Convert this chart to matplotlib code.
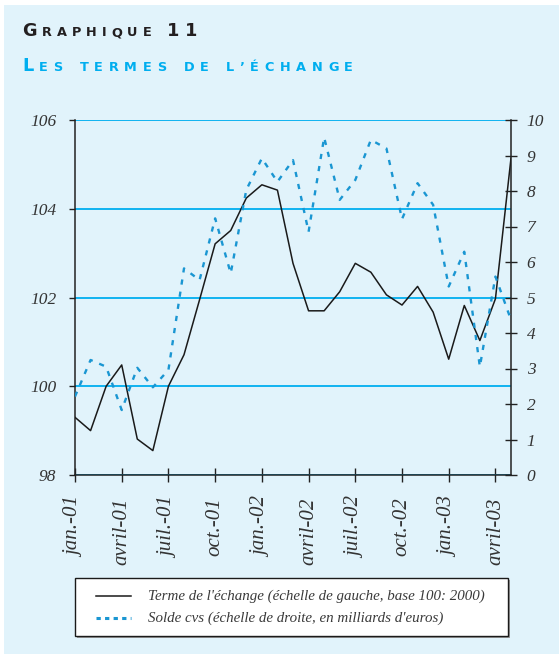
import matplotlib
matplotlib.use('Agg')
import matplotlib.pyplot as plt
from matplotlib.patches import Rectangle
from matplotlib.lines import Line2D
import numpy as np

# ---------------- data ----------------
tick_positions = [0, 3, 6, 9, 12, 15, 18, 21, 24, 27]
tick_labels = ['jan.-01', 'avril-01', 'juil.-01', 'oct.-01', 'jan.-02',
               'avril-02', 'juil.-02', 'oct.-02', 'jan.-03', 'avril-03']
# monthly, jan-01 .. mai-03
termes = [99.30, 99.00, 100.00, 100.48, 98.81, 98.55, 100.00, 100.71, 101.95,
          103.21, 103.51, 104.24, 104.54, 104.42, 102.77, 101.70, 101.70,
          102.13, 102.77, 102.57, 102.06, 101.83, 102.25, 101.67, 100.61,
          101.82, 101.03, 101.97, 105.14]
solde = [2.21, 3.24, 3.05, 1.83, 3.02, 2.47, 2.96, 5.82, 5.49, 7.23, 5.68,
         8.03, 8.92, 8.26, 8.87, 6.85, 9.51, 7.75, 8.31, 9.44, 9.20, 7.21,
         8.22, 7.61, 5.31, 6.29, 3.05, 5.59, 4.37]
left_ticks = [98, 100, 102, 104, 106]
right_ticks = list(range(0, 11))
legend_labels = ["Terme de l'échange (échelle de gauche, base 100: 2000)",
                 "Solde cvs (échelle de droite, en milliards d'euros)"]

W, H = 559, 654
BG = '#e1f3fb'
GRID = '#00aeef'
DOT = '#1a96d2'
DARK = '#222222'
SERIF = 'Liberation Serif'

fig = plt.figure(figsize=(W / 100, H / 100), dpi=100)
fig.patch.set_facecolor('white')
fig.add_artist(Rectangle((4 / W, 0), 1 - 4 / W, 1 - 5 / H, transform=fig.transFigure,
                         facecolor=BG, edgecolor='none', zorder=-10))


def px(x, y):
    return x / W, 1 - y / H


# ---------------- title with tracking (small caps emulation) ----------------
renderer = fig.canvas.get_renderer()


def tracked(parts, x0, x1, ybase, color):
    objs = []
    widths = []
    for ch, size in parts:
        if ch == ' ':
            objs.append(None)
            widths.append(size * 0.45 * 100 / 72)
            continue
        t = fig.text(0, 0, ch, fontsize=size, family='DejaVu Sans', weight='bold',
                     color=color, va='baseline', ha='left')
        objs.append(t)
        widths.append(t.get_window_extent(renderer).width)
    extra = (x1 - x0 - sum(widths)) / (len(parts) - 1)
    x = x0
    for t, w in zip(objs, widths):
        if t is not None:
            t.set_position(px(x, ybase))
        x += w + extra


big, small = 12.8, 9.3
line1 = [('G', big)] + [(c, small) for c in 'RAPHIQUE'] + [(' ', small), ('1', big), ('1', big)]
tracked(line1, 22, 197, 36, '#231f20')
line2 = [('L', big)] + [(c, small) for c in "ES TERMES DE L’ÉCHANGE"]
tracked(line2, 22, 353, 71, '#00aeef')

# ---------------- axes ----------------
ax = fig.add_axes([75 / W, 1 - 475 / H, 436 / W, 355 / H])
ax.set_facecolor('none')
x = np.arange(len(termes))
l1, = ax.plot(x, termes, color='#1a1a1a', lw=1.1, zorder=3)
ax.set_xlim(0, len(termes) - 1)
ax.set_ylim(98, 106)
ax.set_yticks(left_ticks)
ax.set_yticklabels([str(v) for v in left_ticks])
ax.grid(axis='y', color=GRID, lw=1.3, zorder=0)
ax.set_axisbelow(True)
ax.set_xticks(tick_positions)
ax.set_xticklabels(tick_labels, rotation=90, ha='center', va='top')

ax2 = ax.twinx()
l2, = ax2.plot(x, solde, color=DOT, lw=1.7, linestyle=(0, (2.2, 3.0)), zorder=3)
ax2.set_ylim(0, 10)
ax2.set_yticks(right_ticks)
ax2.set_xlim(0, len(termes) - 1)

for s in ['top', 'right']:
    ax.spines[s].set_visible(False)
for s in ['top', 'left', 'bottom']:
    ax2.spines[s].set_visible(False)
for s in ['left', 'bottom']:
    ax.spines[s].set_color(DARK)
    ax.spines[s].set_linewidth(1.1)
ax2.spines['right'].set_color(DARK)
ax2.spines['right'].set_linewidth(1.1)

ax.tick_params(axis='y', direction='out', length=4.5, width=1.0, color=DARK, pad=9,
               labelsize=12.5, labelcolor='#333333')
ax.tick_params(axis='x', direction='inout', length=10, width=1.0, color=DARK, pad=11,
               labelsize=15, labelcolor='#333333')
ax2.tick_params(axis='y', direction='inout', length=8.5, width=1.0, color=DARK, pad=7,
                labelsize=12.5, labelcolor='#333333')
for lab in ax.get_xticklabels() + ax.get_yticklabels() + ax2.get_yticklabels():
    lab.set_family(SERIF)
    lab.set_style('italic')

# ---------------- legend (manual box) ----------------
bx0, by0, bx1, by1 = 75, 578, 508, 636
fig.add_artist(Rectangle(px(bx0 + 1.5, by1 + 1.5), (bx1 - bx0) / W, (by1 - by0) / H,
                         transform=fig.transFigure, facecolor='#9a9a9a', edgecolor='none', zorder=1))
fig.add_artist(Rectangle(px(bx0, by1), (bx1 - bx0) / W, (by1 - by0) / H,
                         transform=fig.transFigure, facecolor='white', edgecolor='#1a1a1a',
                         lw=1.0, zorder=2))
rows = [596, 618]
for handle, label, yy in zip([l1, l2], legend_labels, rows):
    xa, ya = px(96, yy)
    xb, _ = px(131, yy)
    ln = Line2D([xa, xb], [ya, ya], transform=fig.transFigure, color=handle.get_color(),
                lw=handle.get_linewidth() if handle is l1 else 2.2,
                linestyle='-' if handle is l1 else (0, (1.4, 1.4)), zorder=3)
    fig.add_artist(ln)
    fig.text(*px(148, yy), label, family=SERIF, style='italic', fontsize=10.8,
             color='#3a3a3a', va='center', ha='left', zorder=3)

fig.savefig('out.png', dpi=100, facecolor=fig.get_facecolor())
